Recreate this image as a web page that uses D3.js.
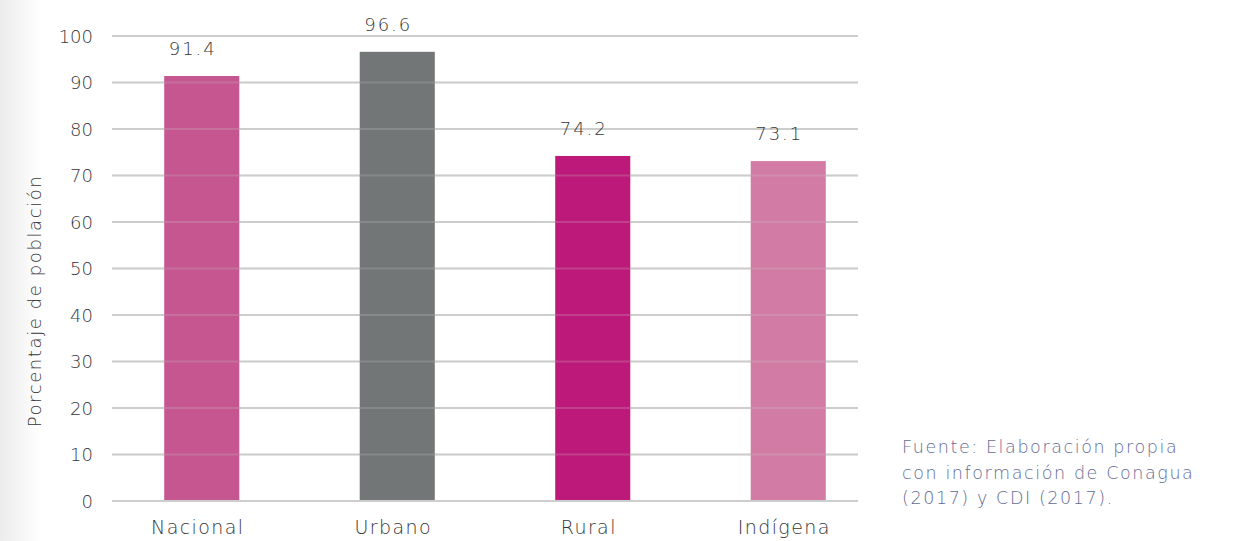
<!DOCTYPE html>
<html>
<head>
<meta charset="utf-8">
<script src="https://cdn.jsdelivr.net/npm/d3@7"></script>
<style>
  body { margin: 0; background: #fff; }
  svg text { font-family: "DejaVu Sans", "Open Sans", sans-serif; font-weight: 200; }
</style>
</head>
<body>
<svg id="chart" width="1235" height="541"></svg>
<script>
const categories = ["Nacional", "Urbano", "Rural", "Indígena"];
const values = [91.4, 96.6, 74.2, 73.1];
const colors = ["#c5568f", "#737677", "#bd197a", "#d27ba4"];
const yTicks = [0, 10, 20, 30, 40, 50, 60, 70, 80, 90, 100];
const yTitle = "Porcentaje de población";
const sourceLines = ["Fuente: Elaboración propia", "con información de Conagua", "(2017) y CDI (2017)."];

const textColor = "#363636";
const svg = d3.select("#chart");

// soft grey strip at the left edge
const defs = svg.append("defs");
const grad = defs.append("linearGradient").attr("id", "edge").attr("x1", 0).attr("x2", 1);
grad.append("stop").attr("offset", 0).attr("stop-color", "#ececec");
grad.append("stop").attr("offset", 1).attr("stop-color", "#ffffff");
svg.append("rect").attr("x", 0).attr("y", 0).attr("width", 42).attr("height", 541).attr("fill", "url(#edge)");

const gridX0 = 112, gridX1 = 858;
const y = d3.scaleLinear().domain([0, 100]).range([501, 36]);
const x = d3.scaleBand().domain(categories).range([104, 886])
  .paddingInner(0.616).paddingOuter(0.308);

// y axis tick labels
const yAxis = d3.axisLeft(y).tickValues(yTicks).tickSize(0).tickPadding(0);
const gy = svg.append("g").attr("transform", "translate(93,0)").call(yAxis);
gy.select(".domain").remove();
gy.selectAll("text").attr("font-size", 18).attr("fill", textColor).attr("dy", "0.35em");

// gridlines behind the bars
svg.append("g").selectAll("line").data(yTicks).join("line")
  .attr("x1", gridX0).attr("x2", gridX1)
  .attr("y1", d => y(d)).attr("y2", d => y(d))
  .attr("stroke", "#cdcdcd").attr("stroke-width", 2);

// bars
svg.append("g").selectAll("rect").data(values).join("rect")
  .attr("x", (d, i) => x(categories[i]))
  .attr("width", x.bandwidth())
  .attr("y", d => y(d))
  .attr("height", d => y(0) - y(d))
  .attr("fill", (d, i) => colors[i]);

// faint gridline overlay showing through the bars
svg.append("g").selectAll("line").data(yTicks).join("line")
  .attr("x1", gridX0).attr("x2", gridX1)
  .attr("y1", d => y(d)).attr("y2", d => y(d))
  .attr("stroke", "#cdcdcd").attr("stroke-width", 2)
  .attr("stroke-opacity", d => d === 0 ? 1 : 0.22);

// value labels
svg.append("g").selectAll("text").data(values).join("text")
  .attr("x", (d, i) => x(categories[i]) + x.bandwidth() / 2 - 9)
  .attr("y", d => y(d) - 21)
  .attr("text-anchor", "middle")
  .attr("font-size", 18)
  .attr("letter-spacing", "2px")
  .attr("fill", textColor)
  .text(d => d.toFixed(1));

// category labels
const xAxis = d3.axisBottom(x).tickSize(0).tickPadding(0);
const gx = svg.append("g").attr("transform", "translate(-4,527)").call(xAxis);
gx.select(".domain").remove();
gx.selectAll("text").attr("font-size", 19).attr("fill", textColor).attr("dy", "0.35em").attr("letter-spacing", "1.4px");

// y axis title
svg.append("text")
  .attr("transform", "translate(41,301) rotate(-90)")
  .attr("text-anchor", "middle")
  .attr("font-size", 18)
  .attr("letter-spacing", "1.6px")
  .attr("fill", textColor)
  .text(yTitle);

// source note
svg.append("g").selectAll("text").data(sourceLines).join("text")
  .attr("x", 902)
  .attr("y", (d, i) => 453 + i * 25.5)
  .attr("font-size", 17.5)
  .attr("letter-spacing", "1.6px")
  .attr("fill", "#646c96")
  .text(d => d);
</script>
</body>
</html>
